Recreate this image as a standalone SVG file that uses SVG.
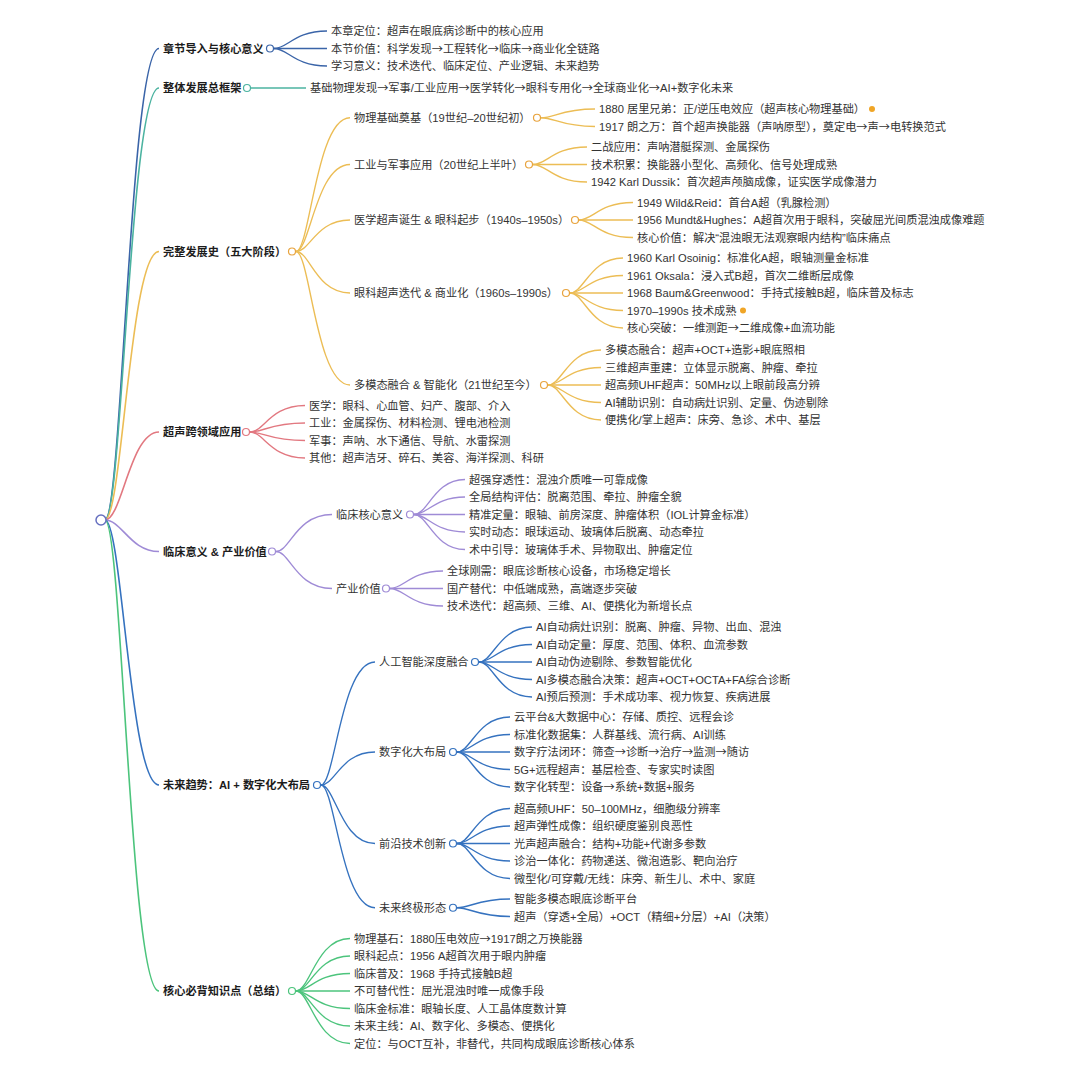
<svg xmlns="http://www.w3.org/2000/svg" width="1080" height="1080" viewBox="0 0 1080 1080">
<style>
text{font-family:"Liberation Sans","Noto Sans CJK SC",sans-serif;font-size:11.2px;fill:#333}
.a{font-family:"Noto Sans CJK SC",sans-serif}
.h{font-weight:bold;fill:#1c1c1c}
circle{fill:#fff;stroke-width:1.2}
path{fill:none;stroke-width:1.35}
.root path{stroke-width:1.6}
.s1{stroke:#3a64a8}.s2{stroke:#4bb3a0}.s3{stroke:#ecbd55}.o3{stroke:#e8a33d}.s4{stroke:#e27880}.s5{stroke:#9f8bd6}.s6{stroke:#3572bf}.s7{stroke:#4cc47c}
.dot{fill:#f0a526;stroke:none}
</style>
<rect width="1080" height="1080" fill="#fff"/>
<g id="connectors">
<g class="root">
<path class="s1" d="M105 520C122 520 130 48.5 159 48.5"/>
<path class="s2" d="M105 520C122 520 130 88 159 88"/>
<path class="s3" d="M105 520C122 520 130 251.5 159 251.5"/>
<path class="s4" d="M105 520C122 520 130 432 159 432"/>
<path class="s5" d="M105 520C122 520 130 551.5 159 551.5"/>
<path class="s6" d="M105 520C122 520 130 785 159 785"/>
<path class="s7" d="M105 520C122 520 130 991 159 991"/>
</g>
<g class="s1">
<path d="M274 48.5C288 48.5 294 31 327 31"/>
<path d="M274 48.5L327 48.5"/>
<path d="M274 48.5C288 48.5 294 66 327 66"/>
</g>
<g class="s2"><path d="M251 88L306 88"/></g>
<g class="s3">
<path d="M296 251.5C310 251.5 316 117.75 350 117.75"/>
<path d="M296 251.5C310 251.5 316 164.5 350 164.5"/>
<path d="M296 251.5C310 251.5 316 220 350 220"/>
<path d="M296 251.5C310 251.5 316 293 350 293"/>
<path d="M296 251.5C310 251.5 316 385 350 385"/>
<path d="M541 117.75C555 117.75 561 109 595 109"/>
<path d="M541 117.75C555 117.75 561 126.5 595 126.5"/>
<path d="M533 164.5C547 164.5 553 147 587 147"/>
<path d="M533 164.5L587 164.5"/>
<path d="M533 164.5C547 164.5 553 182 587 182"/>
<path d="M579 220C593 220 599 202.5 633 202.5"/>
<path d="M579 220L633 220"/>
<path d="M579 220C593 220 599 237.5 633 237.5"/>
<path d="M570 293C584 293 590 258 623 258"/>
<path d="M570 293C584 293 590 275.5 623 275.5"/>
<path d="M570 293L623 293"/>
<path d="M570 293C584 293 590 310.5 623 310.5"/>
<path d="M570 293C584 293 590 328 623 328"/>
<path d="M548 385C562 385 568 350 601 350"/>
<path d="M548 385C562 385 568 367.5 601 367.5"/>
<path d="M548 385L601 385"/>
<path d="M548 385C562 385 568 402.5 601 402.5"/>
<path d="M548 385C562 385 568 420 601 420"/>
</g>
<g class="s4">
<path d="M250 432C264 432 270 405.5 305 405.5"/>
<path d="M250 432C264 432 270 423 305 423"/>
<path d="M250 432C264 432 270 440.5 305 440.5"/>
<path d="M250 432C264 432 270 458 305 458"/>
</g>
<g class="s5">
<path d="M276 551.5C290 551.5 296 514.5 332 514.5"/>
<path d="M276 551.5C290 551.5 296 588.5 332 588.5"/>
<path d="M414 514.5C428 514.5 434 479.5 465 479.5"/>
<path d="M414 514.5C428 514.5 434 497 465 497"/>
<path d="M414 514.5L465 514.5"/>
<path d="M414 514.5C428 514.5 434 532 465 532"/>
<path d="M414 514.5C428 514.5 434 549.5 465 549.5"/>
<path d="M390 588.5C404 588.5 410 571 443 571"/>
<path d="M390 588.5L443 588.5"/>
<path d="M390 588.5C404 588.5 410 606 443 606"/>
</g>
<g class="s6">
<path d="M321 785C335 785 341 662 375 662"/>
<path d="M321 785C335 785 341 752 375 752"/>
<path d="M321 785C335 785 341 843.5 375 843.5"/>
<path d="M321 785C335 785 341 907.75 375 907.75"/>
<path d="M479 662C493 662 499 627 532 627"/>
<path d="M479 662C493 662 499 644.5 532 644.5"/>
<path d="M479 662L532 662"/>
<path d="M479 662C493 662 499 679.5 532 679.5"/>
<path d="M479 662C493 662 499 697 532 697"/>
<path d="M457 752C471 752 477 717 510 717"/>
<path d="M457 752C471 752 477 734.5 510 734.5"/>
<path d="M457 752L510 752"/>
<path d="M457 752C471 752 477 769.5 510 769.5"/>
<path d="M457 752C471 752 477 787 510 787"/>
<path d="M457 843.5C471 843.5 477 808.5 510 808.5"/>
<path d="M457 843.5C471 843.5 477 826 510 826"/>
<path d="M457 843.5L510 843.5"/>
<path d="M457 843.5C471 843.5 477 861 510 861"/>
<path d="M457 843.5C471 843.5 477 878.5 510 878.5"/>
<path d="M457 907.75C471 907.75 477 899 510 899"/>
<path d="M457 907.75C471 907.75 477 916.5 510 916.5"/>
</g>
<g class="s7">
<path d="M296 991C310 991 316 938.5 350 938.5"/>
<path d="M296 991C310 991 316 956 350 956"/>
<path d="M296 991C310 991 316 973.5 350 973.5"/>
<path d="M296 991L350 991"/>
<path d="M296 991C310 991 316 1008.5 350 1008.5"/>
<path d="M296 991C310 991 316 1026 350 1026"/>
<path d="M296 991C310 991 316 1043.5 350 1043.5"/>
</g>
</g>

<g id="root"><circle cx="101" cy="520" r="5" style="stroke:#6670c0;stroke-width:1.5"/></g>

<g id="n-intro"><text class="h" x="163" y="52.5">章节导入与核心意义</text><circle class="s1" cx="270" cy="48.5" r="3.5"/></g>
<g id="n-intro-1"><text x="331" y="35">本章定位：超声在眼底病诊断中的核心应用</text></g>
<g id="n-intro-2"><text x="331" y="52.5">本节价值：科学发现<tspan class="a">→</tspan>工程转化<tspan class="a">→</tspan>临床<tspan class="a">→</tspan>商业化全链路</text></g>
<g id="n-intro-3"><text x="331" y="70">学习意义：技术迭代、临床定位、产业逻辑、未来趋势</text></g>

<g id="n-frame"><text class="h" x="163" y="92">整体发展总框架</text><circle class="s2" cx="247" cy="88" r="3.5"/></g>
<g id="n-frame-1"><text x="310" y="92">基础物理发现<tspan class="a">→</tspan>军事/工业应用<tspan class="a">→</tspan>医学转化<tspan class="a">→</tspan>眼科专用化<tspan class="a">→</tspan>全球商业化<tspan class="a">→</tspan>AI+数字化未来</text></g>

<g id="n-hist"><text class="h" x="163" y="255.5">完整发展史（五大阶段）</text><circle class="o3" cx="292" cy="251.5" r="3.5"/></g>
<g id="n-hist-1"><text x="354" y="121.75">物理基础奠基（19世纪–20世纪初）</text><circle class="o3" cx="537" cy="117.75" r="3.5"/></g>
<g id="n-hist-1-1"><text x="599" y="113">1880 居里兄弟：正/逆压电效应（超声核心物理基础）</text><circle class="dot" cx="872" cy="109" r="3"/></g>
<g id="n-hist-1-2"><text x="599" y="130.5">1917 朗之万：首个超声换能器（声呐原型），奠定电<tspan class="a">→</tspan>声<tspan class="a">→</tspan>电转换范式</text></g>
<g id="n-hist-2"><text x="354" y="168.5">工业与军事应用（20世纪上半叶）</text><circle class="o3" cx="529" cy="164.5" r="3.5"/></g>
<g id="n-hist-2-1"><text x="591" y="151">二战应用：声呐潜艇探测、金属探伤</text></g>
<g id="n-hist-2-2"><text x="591" y="168.5">技术积累：换能器小型化、高频化、信号处理成熟</text></g>
<g id="n-hist-2-3"><text x="591" y="186">1942 Karl Dussik：首次超声颅脑成像，证实医学成像潜力</text></g>
<g id="n-hist-3"><text x="354" y="224">医学超声诞生 &amp; 眼科起步（1940s–1950s）</text><circle class="o3" cx="575" cy="220" r="3.5"/></g>
<g id="n-hist-3-1"><text x="637" y="206.5">1949 Wild&amp;Reid：首台A超（乳腺检测）</text></g>
<g id="n-hist-3-2"><text x="637" y="224">1956 Mundt&amp;Hughes：A超首次用于眼科，突破屈光间质混浊成像难题</text></g>
<g id="n-hist-3-3"><text x="637" y="241.5">核心价值：解决“混浊眼无法观察眼内结构”临床痛点</text></g>
<g id="n-hist-4"><text x="354" y="297">眼科超声迭代 &amp; 商业化（1960s–1990s）</text><circle class="o3" cx="566" cy="293" r="3.5"/></g>
<g id="n-hist-4-1"><text x="627" y="262">1960 Karl Osoinig：标准化A超，眼轴测量金标准</text></g>
<g id="n-hist-4-2"><text x="627" y="279.5">1961 Oksala：浸入式B超，首次二维断层成像</text></g>
<g id="n-hist-4-3"><text x="627" y="297">1968 Baum&amp;Greenwood：手持式接触B超，临床普及标志</text></g>
<g id="n-hist-4-4"><text x="627" y="314.5">1970–1990s 技术成熟</text><circle class="dot" cx="743" cy="310.5" r="3"/></g>
<g id="n-hist-4-5"><text x="627" y="332">核心突破：一维测距<tspan class="a">→</tspan>二维成像+血流功能</text></g>
<g id="n-hist-5"><text x="354" y="389">多模态融合 &amp; 智能化（21世纪至今）</text><circle class="o3" cx="544" cy="385" r="3.5"/></g>
<g id="n-hist-5-1"><text x="605" y="354">多模态融合：超声+OCT+造影+眼底照相</text></g>
<g id="n-hist-5-2"><text x="605" y="371.5">三维超声重建：立体显示脱离、肿瘤、牵拉</text></g>
<g id="n-hist-5-3"><text x="605" y="389">超高频UHF超声：50MHz以上眼前段高分辨</text></g>
<g id="n-hist-5-4"><text x="605" y="406.5">AI辅助识别：自动病灶识别、定量、伪迹剔除</text></g>
<g id="n-hist-5-5"><text x="605" y="424">便携化/掌上超声：床旁、急诊、术中、基层</text></g>

<g id="n-cross"><text class="h" x="163" y="436">超声跨领域应用</text><circle class="s4" cx="246" cy="432" r="3.5"/></g>
<g id="n-cross-1"><text x="309" y="409.5">医学：眼科、心血管、妇产、腹部、介入</text></g>
<g id="n-cross-2"><text x="309" y="427">工业：金属探伤、材料检测、锂电池检测</text></g>
<g id="n-cross-3"><text x="309" y="444.5">军事：声呐、水下通信、导航、水雷探测</text></g>
<g id="n-cross-4"><text x="309" y="462">其他：超声洁牙、碎石、美容、海洋探测、科研</text></g>

<g id="n-value"><text class="h" x="163" y="555.5">临床意义 &amp; 产业价值</text><circle class="s5" cx="272" cy="551.5" r="3.5"/></g>
<g id="n-value-1"><text x="336" y="518.5">临床核心意义</text><circle class="s5" cx="410" cy="514.5" r="3.5"/></g>
<g id="n-value-1-1"><text x="469" y="483.5">超强穿透性：混浊介质唯一可靠成像</text></g>
<g id="n-value-1-2"><text x="469" y="501">全局结构评估：脱离范围、牵拉、肿瘤全貌</text></g>
<g id="n-value-1-3"><text x="469" y="518.5">精准定量：眼轴、前房深度、肿瘤体积（IOL计算金标准）</text></g>
<g id="n-value-1-4"><text x="469" y="536">实时动态：眼球运动、玻璃体后脱离、动态牵拉</text></g>
<g id="n-value-1-5"><text x="469" y="553.5">术中引导：玻璃体手术、异物取出、肿瘤定位</text></g>
<g id="n-value-2"><text x="336" y="592.5">产业价值</text><circle class="s5" cx="386" cy="588.5" r="3.5"/></g>
<g id="n-value-2-1"><text x="447" y="575">全球刚需：眼底诊断核心设备，市场稳定增长</text></g>
<g id="n-value-2-2"><text x="447" y="592.5">国产替代：中低端成熟，高端逐步突破</text></g>
<g id="n-value-2-3"><text x="447" y="610">技术迭代：超高频、三维、AI、便携化为新增长点</text></g>

<g id="n-future"><text class="h" x="163" y="789">未来趋势：AI + 数字化大布局</text><circle class="s6" cx="317" cy="785" r="3.5"/></g>
<g id="n-future-1"><text x="379" y="666">人工智能深度融合</text><circle class="s6" cx="475" cy="662" r="3.5"/></g>
<g id="n-future-1-1"><text x="536" y="631">AI自动病灶识别：脱离、肿瘤、异物、出血、混浊</text></g>
<g id="n-future-1-2"><text x="536" y="648.5">AI自动定量：厚度、范围、体积、血流参数</text></g>
<g id="n-future-1-3"><text x="536" y="666">AI自动伪迹剔除、参数智能优化</text></g>
<g id="n-future-1-4"><text x="536" y="683.5">AI多模态融合决策：超声+OCT+OCTA+FA综合诊断</text></g>
<g id="n-future-1-5"><text x="536" y="701">AI预后预测：手术成功率、视力恢复、疾病进展</text></g>
<g id="n-future-2"><text x="379" y="756">数字化大布局</text><circle class="s6" cx="453" cy="752" r="3.5"/></g>
<g id="n-future-2-1"><text x="514" y="721">云平台&amp;大数据中心：存储、质控、远程会诊</text></g>
<g id="n-future-2-2"><text x="514" y="738.5">标准化数据集：人群基线、流行病、AI训练</text></g>
<g id="n-future-2-3"><text x="514" y="756">数字疗法闭环：筛查<tspan class="a">→</tspan>诊断<tspan class="a">→</tspan>治疗<tspan class="a">→</tspan>监测<tspan class="a">→</tspan>随访</text></g>
<g id="n-future-2-4"><text x="514" y="773.5">5G+远程超声：基层检查、专家实时读图</text></g>
<g id="n-future-2-5"><text x="514" y="791">数字化转型：设备<tspan class="a">→</tspan>系统+数据+服务</text></g>
<g id="n-future-3"><text x="379" y="847.5">前沿技术创新</text><circle class="s6" cx="453" cy="843.5" r="3.5"/></g>
<g id="n-future-3-1"><text x="514" y="812.5">超高频UHF：50–100MHz，细胞级分辨率</text></g>
<g id="n-future-3-2"><text x="514" y="830">超声弹性成像：组织硬度鉴别良恶性</text></g>
<g id="n-future-3-3"><text x="514" y="847.5">光声超声融合：结构+功能+代谢多参数</text></g>
<g id="n-future-3-4"><text x="514" y="865">诊治一体化：药物递送、微泡造影、靶向治疗</text></g>
<g id="n-future-3-5"><text x="514" y="882.5">微型化/可穿戴/无线：床旁、新生儿、术中、家庭</text></g>
<g id="n-future-4"><text x="379" y="911.75">未来终极形态</text><circle class="s6" cx="453" cy="907.75" r="3.5"/></g>
<g id="n-future-4-1"><text x="514" y="903">智能多模态眼底诊断平台</text></g>
<g id="n-future-4-2"><text x="514" y="920.5">超声（穿透+全局）+OCT（精细+分层）+AI（决策）</text></g>

<g id="n-core"><text class="h" x="163" y="995">核心必背知识点（总结）</text><circle class="s7" cx="292" cy="991" r="3.5"/></g>
<g id="n-core-1"><text x="354" y="942.5">物理基石：1880压电效应<tspan class="a">→</tspan>1917朗之万换能器</text></g>
<g id="n-core-2"><text x="354" y="960">眼科起点：1956 A超首次用于眼内肿瘤</text></g>
<g id="n-core-3"><text x="354" y="977.5">临床普及：1968 手持式接触B超</text></g>
<g id="n-core-4"><text x="354" y="995">不可替代性：屈光混浊时唯一成像手段</text></g>
<g id="n-core-5"><text x="354" y="1012.5">临床金标准：眼轴长度、人工晶体度数计算</text></g>
<g id="n-core-6"><text x="354" y="1030">未来主线：AI、数字化、多模态、便携化</text></g>
<g id="n-core-7"><text x="354" y="1047.5">定位：与OCT互补，非替代，共同构成眼底诊断核心体系</text></g>
</svg>
